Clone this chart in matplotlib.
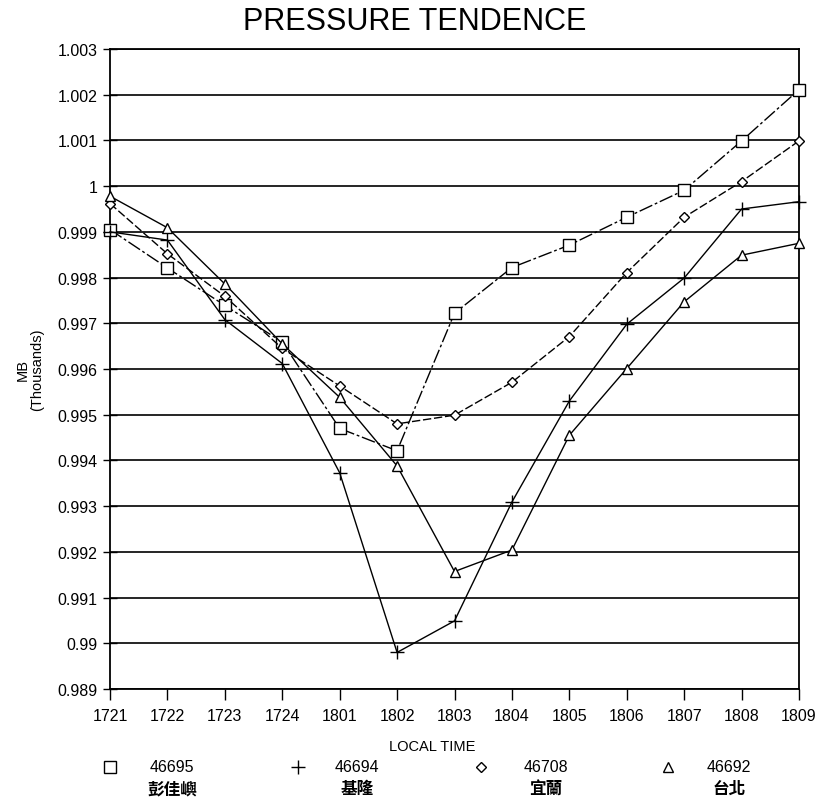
import matplotlib
matplotlib.use("Agg")
import matplotlib.pyplot as plt
from matplotlib.ticker import FixedLocator

# ---- data ----
times = ["1721", "1722", "1723", "1724", "1801", "1802", "1803",
         "1804", "1805", "1806", "1807", "1808", "1809"]
s46695 = [0.99905, 0.99821, 0.99739, 0.99659, 0.99470, 0.99421, 0.99722,
          0.99822, 0.99871, 0.99932, 0.99991, 1.00099, 1.00211]
s46694 = [0.99900, 0.99882, 0.99708, 0.99612, 0.99373, 0.98980, 0.99049,
          0.99309, 0.99530, 0.99698, 0.99799, 0.99950, 0.99966]
s46708 = [0.99962, 0.99852, 0.99759, 0.99645, 0.99563, 0.99480, 0.99499,
          0.99571, 0.99671, 0.99811, 0.99932, 1.00010, 1.00099]
s46692 = [0.99978, 0.99909, 0.99786, 0.99655, 0.99538, 0.99388, 0.99157,
          0.99204, 0.99455, 0.99601, 0.99747, 0.99849, 0.99875]
codes = ["46695", "46694", "46708", "46692"]
names = ["彭佳嶼", "基隆", "宜蘭", "台北"]
yticks = [0.989, 0.990, 0.991, 0.992, 0.993, 0.994, 0.995, 0.996,
          0.997, 0.998, 0.999, 1.000, 1.001, 1.002, 1.003]
ytick_labels = ["0.989", "0.99", "0.991", "0.992", "0.993", "0.994", "0.995",
                "0.996", "0.997", "0.998", "0.999", "1", "1.001", "1.002", "1.003"]

FONT = ["Liberation Sans", "DejaVu Sans"]
CJK = ["Noto Sans CJK TC", "DejaVu Sans"]

fig = plt.figure(figsize=(8.19, 8.03), dpi=100)
ax = fig.add_axes([110/819, 1-690/803, (799-110)/819, (690-50)/803])

x = list(range(len(times)))
series = [s46695, s46694, s46708, s46692]
markers = ["s", "+", "D", "^"]
msizes = [8, 10, 5, 7]
styles = [(0, (10, 2, 2, 2)), "-", (0, (6, 2)), "-"]

for ys, m, ms, ls in zip(series, markers, msizes, styles):
    ax.plot(x, ys, color="black", linestyle=ls, linewidth=1.0,
            marker=m, markersize=ms, markerfacecolor="white",
            markeredgecolor="black", markeredgewidth=1.0, zorder=3,
            clip_on=False)

ax.set_xlim(0, len(times) - 1)
ax.set_ylim(0.989, 1.003)
ax.yaxis.set_major_locator(FixedLocator(yticks))
ax.set_yticklabels(ytick_labels, fontfamily=FONT, fontsize=11.5)
ax.set_xticks(x)
ax.set_xticklabels(times, fontfamily=FONT, fontsize=11.5)
ax.tick_params(axis="y", direction="inout", length=10, width=1.0, pad=4)
ax.tick_params(axis="x", direction="out", length=8, width=1.0, pad=6)
ax.grid(axis="y", color="black", linewidth=1.2, linestyle="-")
ax.set_axisbelow(True)
for sp in ax.spines.values():
    sp.set_linewidth(1.3)

fig.text(415/819, 1-22/803, "PRESSURE TENDENCE", ha="center", va="center",
         fontfamily=FONT, fontsize=22)
fig.text(432/819, 1-747/803, "LOCAL TIME", ha="center", va="center",
         fontfamily=FONT, fontsize=10.5)
fig.text(30/819, 1-370/803, "MB\n(Thousands)", ha="center", va="center",
         rotation=90, fontfamily=FONT, fontsize=10.5, linespacing=1.1)

# legend row
sym_x = [110, 298, 481, 668]
txt_x = [172, 357, 546, 729]
for sx, tx, m, ms, c, n in zip(sym_x, txt_x, markers, msizes, codes, names):
    fig.lines.append(plt.Line2D([sx/819], [1-768/803], marker=m, markersize=ms,
                                color="black", markerfacecolor="white",
                                markeredgewidth=1.0, transform=fig.transFigure))
    fig.text(tx/819, 1-768/803, c, ha="center", va="center",
             fontfamily=FONT, fontsize=11.5)
    fig.text(tx/819, 1-789/803, n, ha="center", va="center",
             fontfamily=CJK, fontsize=12, fontweight="bold")

fig.savefig("out.png", dpi=100)
